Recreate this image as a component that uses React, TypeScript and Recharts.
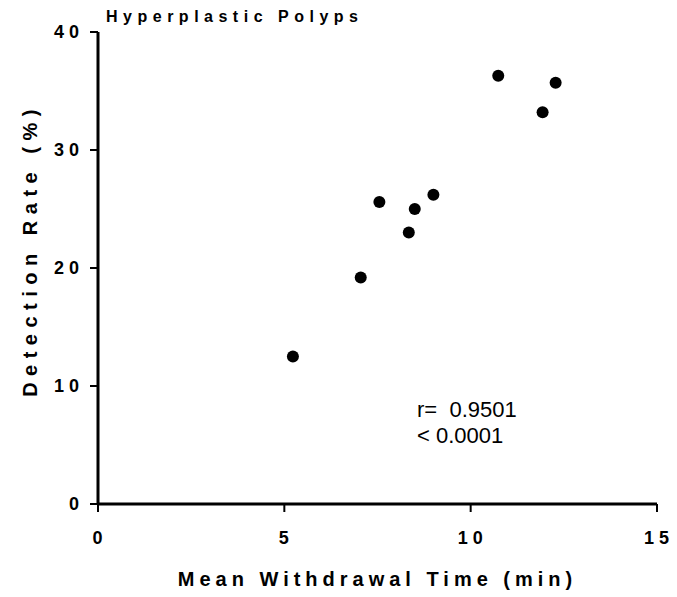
import { ScatterChart, Scatter, XAxis, YAxis } from 'recharts'

// Hyperplastic polyps: detection rate vs mean withdrawal time
const withdrawalTime = [5.23, 7.05, 7.55, 8.34, 8.5, 9.0, 10.74, 11.93, 12.28]
const detectionRate = [12.5, 19.2, 25.6, 23.0, 25.0, 26.2, 36.3, 33.2, 35.7]
const xTicks = [0, 5, 10, 15]
const yTicks = [0, 10, 20, 30, 40]
const chartTitle = 'Hyperplastic Polyps'
const xTitle = 'Mean Withdrawal Time (min)'
const yTitle = 'Detection Rate (%)'
const rText = 'r=\u00a0 0.9501'
const pText = '< 0.0001'

const data = withdrawalTime.map((x, i) => ({ x, y: detectionRate[i] }))

const font = '"Liberation Sans", Arial, sans-serif'

function XTick({ x, y, payload }: any) {
  return (
    <text x={x + 2} y={y + 30} textAnchor="middle" fontFamily={font} fontWeight="bold" fontSize={18} letterSpacing={5} fill="#000">
      {payload.value}
    </text>
  )
}

function YTick({ x, y, payload }: any) {
  return (
    <text x={x - 4} y={y + 6} textAnchor="end" fontFamily={font} fontWeight="bold" fontSize={18} letterSpacing={5} fill="#000">
      {payload.value}
    </text>
  )
}

function Dot({ cx, cy }: any) {
  return <circle cx={cx} cy={cy} r={6} fill="#000" />
}

export default function App() {
  return (
    <div style={{ position: 'absolute', left: 0, top: 0, width: 677, height: 597, background: '#fff', fontFamily: font }}>
      <ScatterChart width={677} height={597} margin={{ top: 32, right: 20, bottom: 63, left: 38 }}>
        <XAxis
          type="number"
          dataKey="x"
          domain={[0, 15]}
          ticks={xTicks}
          tick={<XTick />}
          tickSize={8}
          axisLine={{ stroke: '#000', strokeWidth: 3 }}
          tickLine={{ stroke: '#000', strokeWidth: 2 }}
          height={30}
        />
        <YAxis
          type="number"
          dataKey="y"
          domain={[0, 40]}
          ticks={yTicks}
          tick={<YTick />}
          tickSize={8}
          axisLine={{ stroke: '#000', strokeWidth: 3 }}
          tickLine={{ stroke: '#000', strokeWidth: 2 }}
          width={60}
        />
        <Scatter data={data} fill="#000" shape={<Dot />} isAnimationActive={false} />
      </ScatterChart>
      <div style={{ position: 'absolute', left: 106, top: 8, fontSize: 16, fontWeight: 'bold', letterSpacing: 5.5, whiteSpace: 'nowrap' }}>
        {chartTitle}
      </div>
      <div style={{ position: 'absolute', left: 0, width: 755, top: 568, textAlign: 'center', fontSize: 20, fontWeight: 'bold', letterSpacing: 5, whiteSpace: 'nowrap' }}>
        {xTitle}
      </div>
      <div
        style={{
          position: 'absolute',
          left: 30,
          top: 250,
          transform: 'translate(-50%, -50%) rotate(-90deg)',
          fontSize: 20,
          fontWeight: 'bold',
          letterSpacing: 6.5,
          whiteSpace: 'nowrap',
        }}
      >
        {yTitle}
      </div>
      <div style={{ position: 'absolute', left: 417, top: 397, fontSize: 22, lineHeight: '26px', whiteSpace: 'nowrap' }}>
        <div>{rText}</div>
        <div>{pText}</div>
      </div>
    </div>
  )
}
